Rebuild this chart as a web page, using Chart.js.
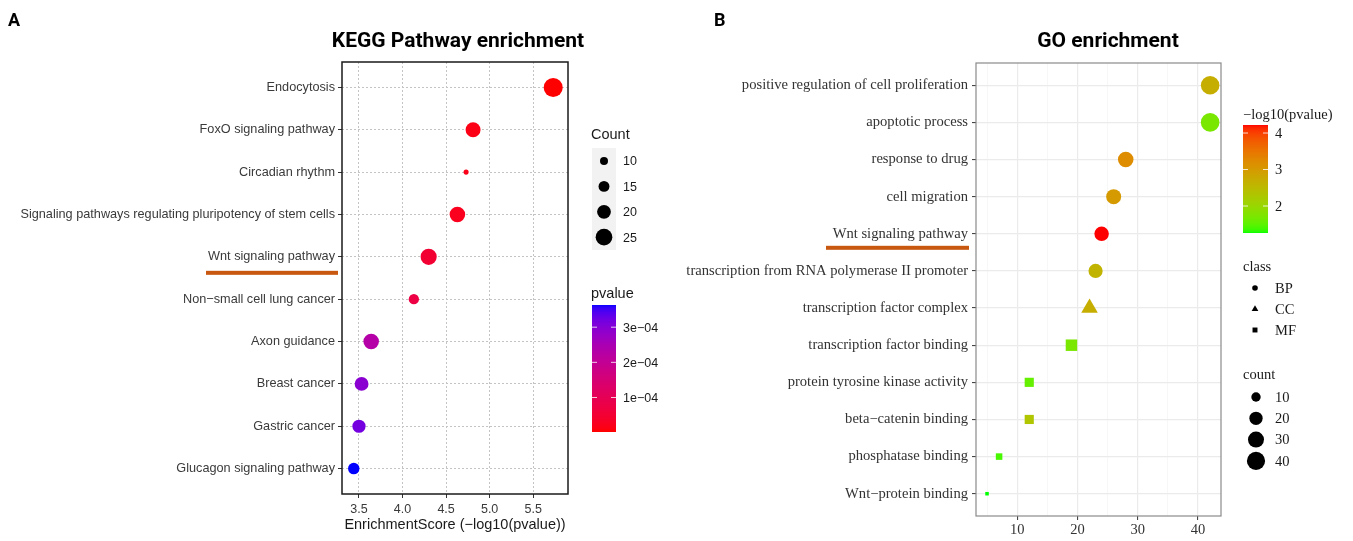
<!DOCTYPE html>
<html><head><meta charset="utf-8">
<script src="https://cdn.jsdelivr.net/npm/chart.js@4"></script>
<style>
html,body{margin:0;padding:0;background:#fff;width:1353px;height:541px;overflow:hidden}
#a{position:absolute;left:0;top:0}
#b{position:absolute;left:676px;top:0}
</style></head><body>
<canvas id="a" width="676" height="541"></canvas>
<canvas id="b" width="677" height="541"></canvas>
<script>
// ---------- Panel A data (KEGG) ----------
const keggPathways = ['Endocytosis','FoxO signaling pathway','Circadian rhythm','Signaling pathways regulating pluripotency of stem cells','Wnt signaling pathway','Non\u2212small cell lung cancer','Axon guidance','Breast cancer','Gastric cancer','Glucagon signaling pathway'];
const keggScores = [5.73, 4.81, 4.73, 4.63, 4.30, 4.13, 3.64, 3.53, 3.50, 3.44];
const keggCounts = [29, 22, 5, 23, 24, 14, 23, 20, 19, 16];
const keggTicks = [3.5, 4.0, 4.5, 5.0, 5.5];
const keggCountLegend = [10, 15, 20, 25];
const keggPvalueTicks = [1e-4, 2e-4, 3e-4];
const keggPvalueTickLabels = ['1e\u221204', '2e\u221204', '3e\u221204'];

// ---------- Panel B data (GO) ----------
const goTerms = ['positive regulation of cell proliferation','apoptotic process','response to drug','cell migration','Wnt signaling pathway','transcription from RNA polymerase II promoter','transcription factor complex','transcription factor binding','protein tyrosine kinase activity','beta\u2212catenin binding','phosphatase binding','Wnt\u2212protein binding'];
const goCounts = [42, 42, 28, 26, 24, 23, 22, 19, 12, 12, 7, 5];
const goLogP = [2.7, 1.7, 3.2, 3.0, 4.22, 2.6, 2.7, 1.7, 1.55, 2.3, 1.4, 1.26];
const goClass = ['BP','BP','BP','BP','BP','BP','CC','MF','MF','MF','MF','MF'];
const goTicks = [10, 20, 30, 40];
const goMinorTicks = [5, 15, 25, 35];
const goCountLegend = [10, 20, 30, 40];
const goLogPTicks = [2, 3, 4];
const goClasses = ['BP','CC','MF'];

// ---------- colour helpers (CIELAB interpolation like ggplot) ----------
function s2l(c){c/=255;return c<=0.04045?c/12.92:Math.pow((c+0.055)/1.055,2.4);}
function l2s(c){c=c<=0.0031308?12.92*c:1.055*Math.pow(c,1/2.4)-0.055;return Math.round(Math.max(0,Math.min(1,c))*255);}
const XN=0.95047,YN=1,ZN=1.08883;
function rgb2lab(rgb){
  const R=s2l(rgb[0]),G=s2l(rgb[1]),B=s2l(rgb[2]);
  const X=(0.4124564*R+0.3575761*G+0.1804375*B)/XN;
  const Y=(0.2126729*R+0.7151522*G+0.0721750*B)/YN;
  const Z=(0.0193339*R+0.1191920*G+0.9503041*B)/ZN;
  const f=t=>t>0.008856?Math.cbrt(t):7.787*t+16/116;
  const fx=f(X),fy=f(Y),fz=f(Z);
  return [116*fy-16,500*(fx-fy),200*(fy-fz)];
}
function lab2rgb(lab){
  const fy=(lab[0]+16)/116,fx=fy+lab[1]/500,fz=fy-lab[2]/200;
  const fi=t=>t*t*t>0.008856?t*t*t:(t-16/116)/7.787;
  const X=fi(fx)*XN,Y=fi(fy)*YN,Z=fi(fz)*ZN;
  const R=3.2404542*X-1.5371385*Y-0.4985314*Z;
  const G=-0.9692660*X+1.8760108*Y+0.0415560*Z;
  const B=0.0556434*X-0.2040259*Y+1.0572252*Z;
  return 'rgb('+l2s(R)+','+l2s(G)+','+l2s(B)+')';
}
function ramp(lowRGB, highRGB){
  const a=rgb2lab(lowRGB), b=rgb2lab(highRGB);
  return t=>{t=Math.max(0,Math.min(1,t));return lab2rgb([a[0]+(b[0]-a[0])*t,a[1]+(b[1]-a[1])*t,a[2]+(b[2]-a[2])*t]);};
}

// ---------- Panel A scales ----------
const nA = keggPathways.length;
const keggP = keggScores.map(s=>Math.pow(10,-s));
const pMin = Math.min(...keggP), pMax = Math.max(...keggP);
const rampA = ramp([255,0,0],[0,0,255]);
const colA = p => rampA((p-pMin)/(pMax-pMin));
const rA = c => Math.max(1.5, 4 + (c-10)*0.29);

// ---------- Panel B scales ----------
const nB = goTerms.length;
const lpMin = Math.min(...goLogP), lpMax = Math.max(...goLogP);
const rampB = ramp([0,255,0],[255,0,0]);
const colB = v => rampB((v-lpMin)/(lpMax-lpMin));
const cMinB = Math.min(...goCounts), cMaxB = Math.max(...goCounts);
const rB = c => 2 + 7.3*Math.sqrt(Math.max(0,(c-cMinB))/(cMaxB-cMinB));
const shapeOf = {BP:'circle', CC:'triangle', MF:'rect'};
const shapeScale = {BP:1, CC:1.38, MF:1.25};

const SANS = '"Liberation Sans", Arial, sans-serif';
const SERIF = '"Liberation Serif", "Times New Roman", serif';

// ---------- Panel A decorations ----------
const decorA = {
  id:'decorA',
  afterDraw(chart){
    const ctx=chart.ctx, a=chart.chartArea;
    ctx.save();
    ctx.strokeStyle='#1a1a1a'; ctx.lineWidth=1.5;
    ctx.strokeRect(a.left, a.top, a.right-a.left, a.bottom-a.top);
    ctx.fillStyle='#000'; ctx.textBaseline='alphabetic';
    ctx.font='bold 18px Roboto'; ctx.textAlign='left'; ctx.fillText('A', 8, 26);
    ctx.font='bold 21px Roboto'; ctx.textAlign='center'; ctx.fillText('KEGG Pathway enrichment', 458, 47);
    ctx.font='14.5px '+SANS; ctx.fillStyle='#1a1a1a';
    ctx.fillText('EnrichmentScore (\u2212log10(pvalue))', (a.left+a.right)/2, 529);
    // highlight bar
    const yW = chart.scales.y.getPixelForValue(nA - keggPathways.indexOf('Wnt signaling pathway'));
    ctx.fillStyle='#C8570F'; ctx.fillRect(206, yW+14, 132, 4);
    // Count legend
    ctx.fillStyle='#1a1a1a'; ctx.textAlign='left'; ctx.font='14.5px '+SANS;
    ctx.fillText('Count', 591, 139);
    ctx.fillStyle='#f2f2f2'; ctx.fillRect(592,148,24,102);
    ctx.font='12.5px '+SANS; ctx.textBaseline='middle';
    keggCountLegend.forEach((c,i)=>{
      const y=161+i*25.4;
      ctx.fillStyle='#000'; ctx.beginPath(); ctx.arc(604,y,rA(c),0,Math.PI*2); ctx.fill();
      ctx.fillStyle='#1a1a1a'; ctx.fillText(String(c), 623, y+1);
    });
    // pvalue colourbar
    ctx.textBaseline='alphabetic'; ctx.font='14.5px '+SANS;
    ctx.fillText('pvalue', 591, 298);
    const top=305, bot=432;
    for(let y=top;y<bot;y++){
      const p = pMax - (y+0.5-top)/(bot-top)*(pMax-pMin);
      ctx.fillStyle=colA(p); ctx.fillRect(592,y,24,1);
    }
    ctx.font='12.5px '+SANS; ctx.textBaseline='middle';
    keggPvalueTicks.forEach((p,i)=>{
      const y = bot - (p-pMin)/(pMax-pMin)*(bot-top);
      ctx.strokeStyle='rgba(255,255,255,0.8)'; ctx.lineWidth=1;
      ctx.beginPath(); ctx.moveTo(592,y); ctx.lineTo(597,y); ctx.moveTo(611,y); ctx.lineTo(616,y); ctx.stroke();
      ctx.fillStyle='#1a1a1a'; ctx.fillText(keggPvalueTickLabels[i], 623, y+1);
    });
    ctx.restore();
  }
};

new Chart(document.getElementById('a'), {
  type:'bubble',
  data:{datasets:[{
    data: keggPathways.map((p,i)=>({x:keggScores[i], y:nA-i, r:rA(keggCounts[i])})),
    backgroundColor: keggP.map(p=>colA(p)),
    borderWidth:0, hoverRadius:0, hoverBorderWidth:0
  }]},
  options:{
    responsive:false, animation:false, devicePixelRatio:1, events:[],
    layout:{padding:{left:0, top:62, right:108, bottom:0}},
    plugins:{legend:{display:false}, tooltip:{enabled:false}, title:{display:false}},
    scales:{
      x:{type:'linear', min:3.305, max:5.90,
        afterFit(s){s.height=47;},
        afterBuildTicks(s){s.ticks=keggTicks.map(v=>({value:v}));},
        ticks:{callback:v=>Number(v).toFixed(1), font:{family:SANS, size:12.5}, color:'#3a3a3a', padding:4, maxRotation:0, autoSkip:false},
        grid:{color:'#c4c4c4', lineWidth:1, tickLength:4, tickColor:'#333', tickWidth:1},
        border:{display:false, dash:[2,2]}
      },
      y:{type:'linear', min:0.4, max:nA+0.6,
        afterFit(s){s.width=342;},
        afterBuildTicks(s){s.ticks=keggPathways.map((p,i)=>({value:nA-i}));},
        ticks:{callback:v=>keggPathways[Math.round(nA-v)], font:{family:SANS, size:12.7}, color:'#3a3a3a', padding:3, autoSkip:false},
        grid:{color:'#c4c4c4', lineWidth:1, tickLength:4, tickColor:'#333', tickWidth:1},
        border:{display:false, dash:[2,2]}
      }
    }
  },
  plugins:[decorA]
});

// ---------- Panel B decorations ----------
function drawShape(ctx, shape, x, y, r){
  ctx.beginPath();
  if(shape==='circle'){ctx.arc(x,y,r,0,Math.PI*2);}
  else if(shape==='triangle'){ctx.moveTo(x,y-r); ctx.lineTo(x+r*0.866,y+r*0.5); ctx.lineTo(x-r*0.866,y+r*0.5); ctx.closePath();}
  else {const s=r*Math.SQRT1_2; ctx.rect(x-s,y-s,2*s,2*s);}
  ctx.fill();
}
const decorB = {
  id:'decorB',
  afterDraw(chart){
    const ctx=chart.ctx, a=chart.chartArea, ox=676;
    ctx.save();
    ctx.strokeStyle='#8a8a8a'; ctx.lineWidth=1.2;
    ctx.strokeRect(a.left, a.top, a.right-a.left, a.bottom-a.top);
    ctx.fillStyle='#000'; ctx.textBaseline='alphabetic';
    ctx.font='bold 18px Roboto'; ctx.textAlign='left'; ctx.fillText('B', 714-ox, 26);
    ctx.font='bold 21px Roboto'; ctx.textAlign='center'; ctx.fillText('GO enrichment', 1108-ox, 47);
    // highlight bar
    const yW = chart.scales.y.getPixelForValue(nB - goTerms.indexOf('Wnt signaling pathway'));
    ctx.fillStyle='#C8570F'; ctx.fillRect(826-ox, yW+12, 143, 4);
    // colourbar
    ctx.fillStyle='#1a1a1a'; ctx.textAlign='left'; ctx.font='14.5px '+SERIF;
    ctx.fillText('\u2212log10(pvalue)', 1243-ox, 119);
    const top=125, bot=233, x0=1243-ox, w=25;
    for(let y=top;y<bot;y++){
      const v = lpMax - (y+0.5-top)/(bot-top)*(lpMax-lpMin);
      ctx.fillStyle=colB(v); ctx.fillRect(x0,y,w,1);
    }
    ctx.textBaseline='middle';
    goLogPTicks.forEach(v=>{
      const y = bot - (v-lpMin)/(lpMax-lpMin)*(bot-top);
      ctx.strokeStyle='rgba(255,255,255,0.8)'; ctx.lineWidth=1;
      ctx.beginPath(); ctx.moveTo(x0,y); ctx.lineTo(x0+5,y); ctx.moveTo(x0+w-5,y); ctx.lineTo(x0+w,y); ctx.stroke();
      ctx.fillStyle='#1a1a1a'; ctx.fillText(String(v), 1275-ox, y+1);
    });
    // class legend
    ctx.textBaseline='alphabetic'; ctx.fillText('class', 1243-ox, 271);
    ctx.textBaseline='middle';
    goClasses.forEach((c,i)=>{
      const y=288+i*21;
      ctx.fillStyle='#000'; drawShape(ctx, shapeOf[c], 1255-ox, y, 2.8*shapeScale[c]);
      ctx.fillStyle='#1a1a1a'; ctx.fillText(c, 1275-ox, y+1);
    });
    // count legend
    ctx.textBaseline='alphabetic'; ctx.fillText('count', 1243-ox, 379);
    ctx.textBaseline='middle';
    goCountLegend.forEach((c,i)=>{
      const y=397+i*21.3;
      ctx.fillStyle='#000'; drawShape(ctx,'circle',1256-ox,y,rB(c));
      ctx.fillStyle='#1a1a1a'; ctx.fillText(String(c), 1275-ox, y+1);
    });
    ctx.restore();
  }
};

new Chart(document.getElementById('b'), {
  type:'bubble',
  data:{datasets:[{
    data: goTerms.map((t,i)=>({x:goCounts[i], y:nB-i, r:rB(goCounts[i])*shapeScale[goClass[i]]})),
    backgroundColor: goLogP.map(v=>colB(v)),
    pointStyle: goClass.map(c=>shapeOf[c]),
    borderWidth:0, hoverRadius:0, hoverBorderWidth:0
  }]},
  options:{
    responsive:false, animation:false, devicePixelRatio:1, events:[],
    layout:{padding:{left:0, top:63, right:132, bottom:0}},
    plugins:{legend:{display:false}, tooltip:{enabled:false}, title:{display:false}},
    scales:{
      x:{type:'linear', min:3.17, max:43.8,
        afterFit(s){s.height=25;},
        afterBuildTicks(s){s.ticks=goMinorTicks.concat(goTicks).sort((p,q)=>p-q).map(v=>({value:v}));},
        ticks:{callback:v=>goTicks.includes(v)?String(v):'', font:{family:SERIF, size:14.5}, color:'#333', padding:1, maxRotation:0, autoSkip:false},
        grid:{
          color:c=>goTicks.includes(c.tick&&c.tick.value)?'#ebebeb':'#f3f3f3',
          lineWidth:c=>goTicks.includes(c.tick&&c.tick.value)?1.2:0.7,
          tickLength:4,
          tickColor:c=>goTicks.includes(c.tick&&c.tick.value)?'#333':'rgba(0,0,0,0)',
          tickWidth:1
        },
        border:{display:false}
      },
      y:{type:'linear', min:0.4, max:nB+0.6,
        afterFit(s){s.width=300;},
        afterBuildTicks(s){s.ticks=goTerms.map((t,i)=>({value:nB-i}));},
        ticks:{callback:v=>goTerms[Math.round(nB-v)], font:{family:SERIF, size:14.6}, color:'#333', padding:4, autoSkip:false},
        grid:{color:'#ebebeb', lineWidth:1.2, tickLength:4, tickColor:'#333', tickWidth:1},
        border:{display:false}
      }
    }
  },
  plugins:[decorB]
});
</script>
</body></html>
